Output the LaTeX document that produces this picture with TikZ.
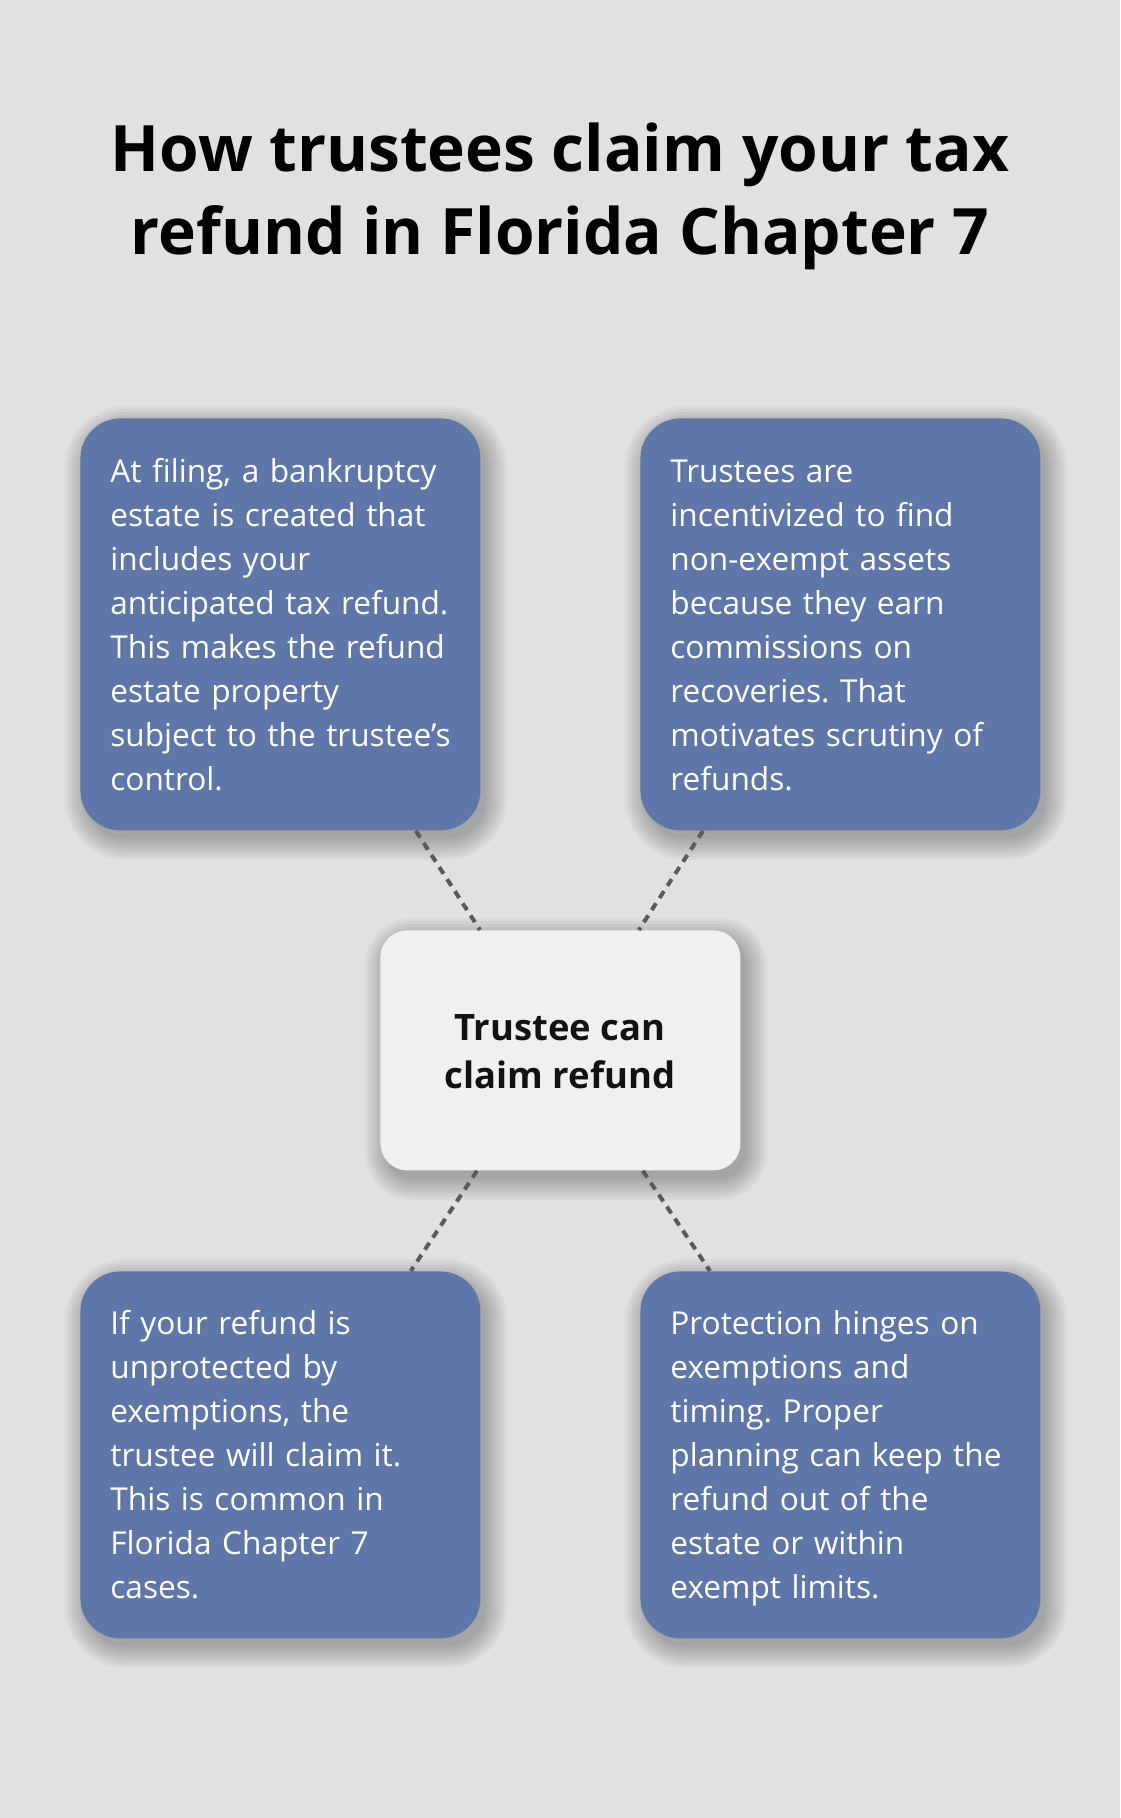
\documentclass[tikz,border=0pt]{standalone}
\usepackage{fontspec}
\setmainfont{Open Sans}
\frenchspacing
\definecolor{bgc}{HTML}{E0E1E0}
\definecolor{boxblue}{HTML}{5E77A8}
\definecolor{centerc}{HTML}{EFF0F2}
\definecolor{dashc}{HTML}{5A5A5A}
\newcommand\mysoftshadow[5]{%
  \foreach \k in {0,3,...,21}{%
    \pgfmathsetmacro\rr{#5+\k*0.5}%
    \fill[black, fill opacity=0.035, rounded corners=\rr pt] (#1-\k+6,#2-\k+9) rectangle (#3+\k+6,#4+\k+9);
  }}
\tikzset{
  bluebox/.style={draw=none, fill=boxblue, rounded corners=20pt, anchor=north west, inner sep=0pt,
    minimum width=200pt},
  centerbox/.style={draw=none, fill=centerc, rounded corners=13.5pt, anchor=north west, inner sep=0pt,
    minimum width=180pt, minimum height=120pt},
  bodytext/.style={anchor=base west, inner sep=0pt, text=white, text width=185pt, align=left,
    font=\fontsize{15.8pt}{22pt}\selectfont},
  centertext/.style={anchor=base, inner sep=0pt, text=black!93, align=center,
    font=\fontsize{18.2pt}{24pt}\selectfont\bfseries},
  titletext/.style={anchor=base, inner sep=0pt, text=black, align=center,
    font=\fontsize{32pt}{41.5pt}\selectfont\bfseries},
  conn/.style={draw=dashc, line width=2pt, dash pattern=on 4pt off 3.2pt}
}
\begin{document}
\begin{tikzpicture}[x=0.5pt, y=-0.5pt]
\fill[bgc] (0,0) rectangle (1120,1818);
\useasboundingbox (0,0) rectangle (1120,1818);

\node[titletext] (title) at (560,255) {How trustees claim your tax\\refund in Florida Chapter 7};

\mysoftshadow{80}{418}{480}{830}{20}
\mysoftshadow{640}{418}{1040}{830}{20}
\mysoftshadow{80}{1271}{480}{1638}{20}
\mysoftshadow{640}{1271}{1040}{1638}{20}
\mysoftshadow{380}{930}{740}{1170}{13.5}

\node[bluebox, minimum height=206pt] (tl) at (80,418) {};
\node[bluebox, minimum height=206pt] (tr) at (640,418) {};
\node[bluebox, minimum height=183.5pt] (bl) at (80,1271) {};
\node[bluebox, minimum height=183.5pt] (br) at (640,1271) {};
\node[centerbox] (c) at (380,930) {};

\draw[conn] ([xshift=-32.5pt]tl.south east) -- ([xshift=50pt]c.north west);
\draw[conn] ([xshift=31.5pt]tr.south west) -- ([xshift=-51pt]c.north east);
\draw[conn] ([xshift=48.5pt]c.south west) -- ([xshift=-35pt]bl.north east);
\draw[conn] ([xshift=-49pt]c.south east) -- ([xshift=35pt]br.north west);

\node[bodytext] (tlt) at (110,482) {At filing, a bankruptcy\\estate is created that\\includes your\\anticipated tax refund.\\This makes the refund\\estate property\\subject to the trustee’s\\control.};
\node[bodytext] (trt) at (670,482) {Trustees are\\incentivized to find\\non-exempt assets\\because they earn\\commissions on\\recoveries. That\\motivates scrutiny of\\refunds.};
\node[bodytext] (blt) at (110,1334) {If your refund is\\unprotected by\\exemptions, the\\trustee will claim it.\\This is common in\\Florida Chapter 7\\cases.};
\node[bodytext] (brt) at (670,1334) {Protection hinges on\\exemptions and\\timing. Proper\\planning can keep the\\refund out of the\\estate or within\\exempt limits.};

\node[centertext] (ct) at (560,1088) {Trustee can\\claim refund};
\end{tikzpicture}
\end{document}
